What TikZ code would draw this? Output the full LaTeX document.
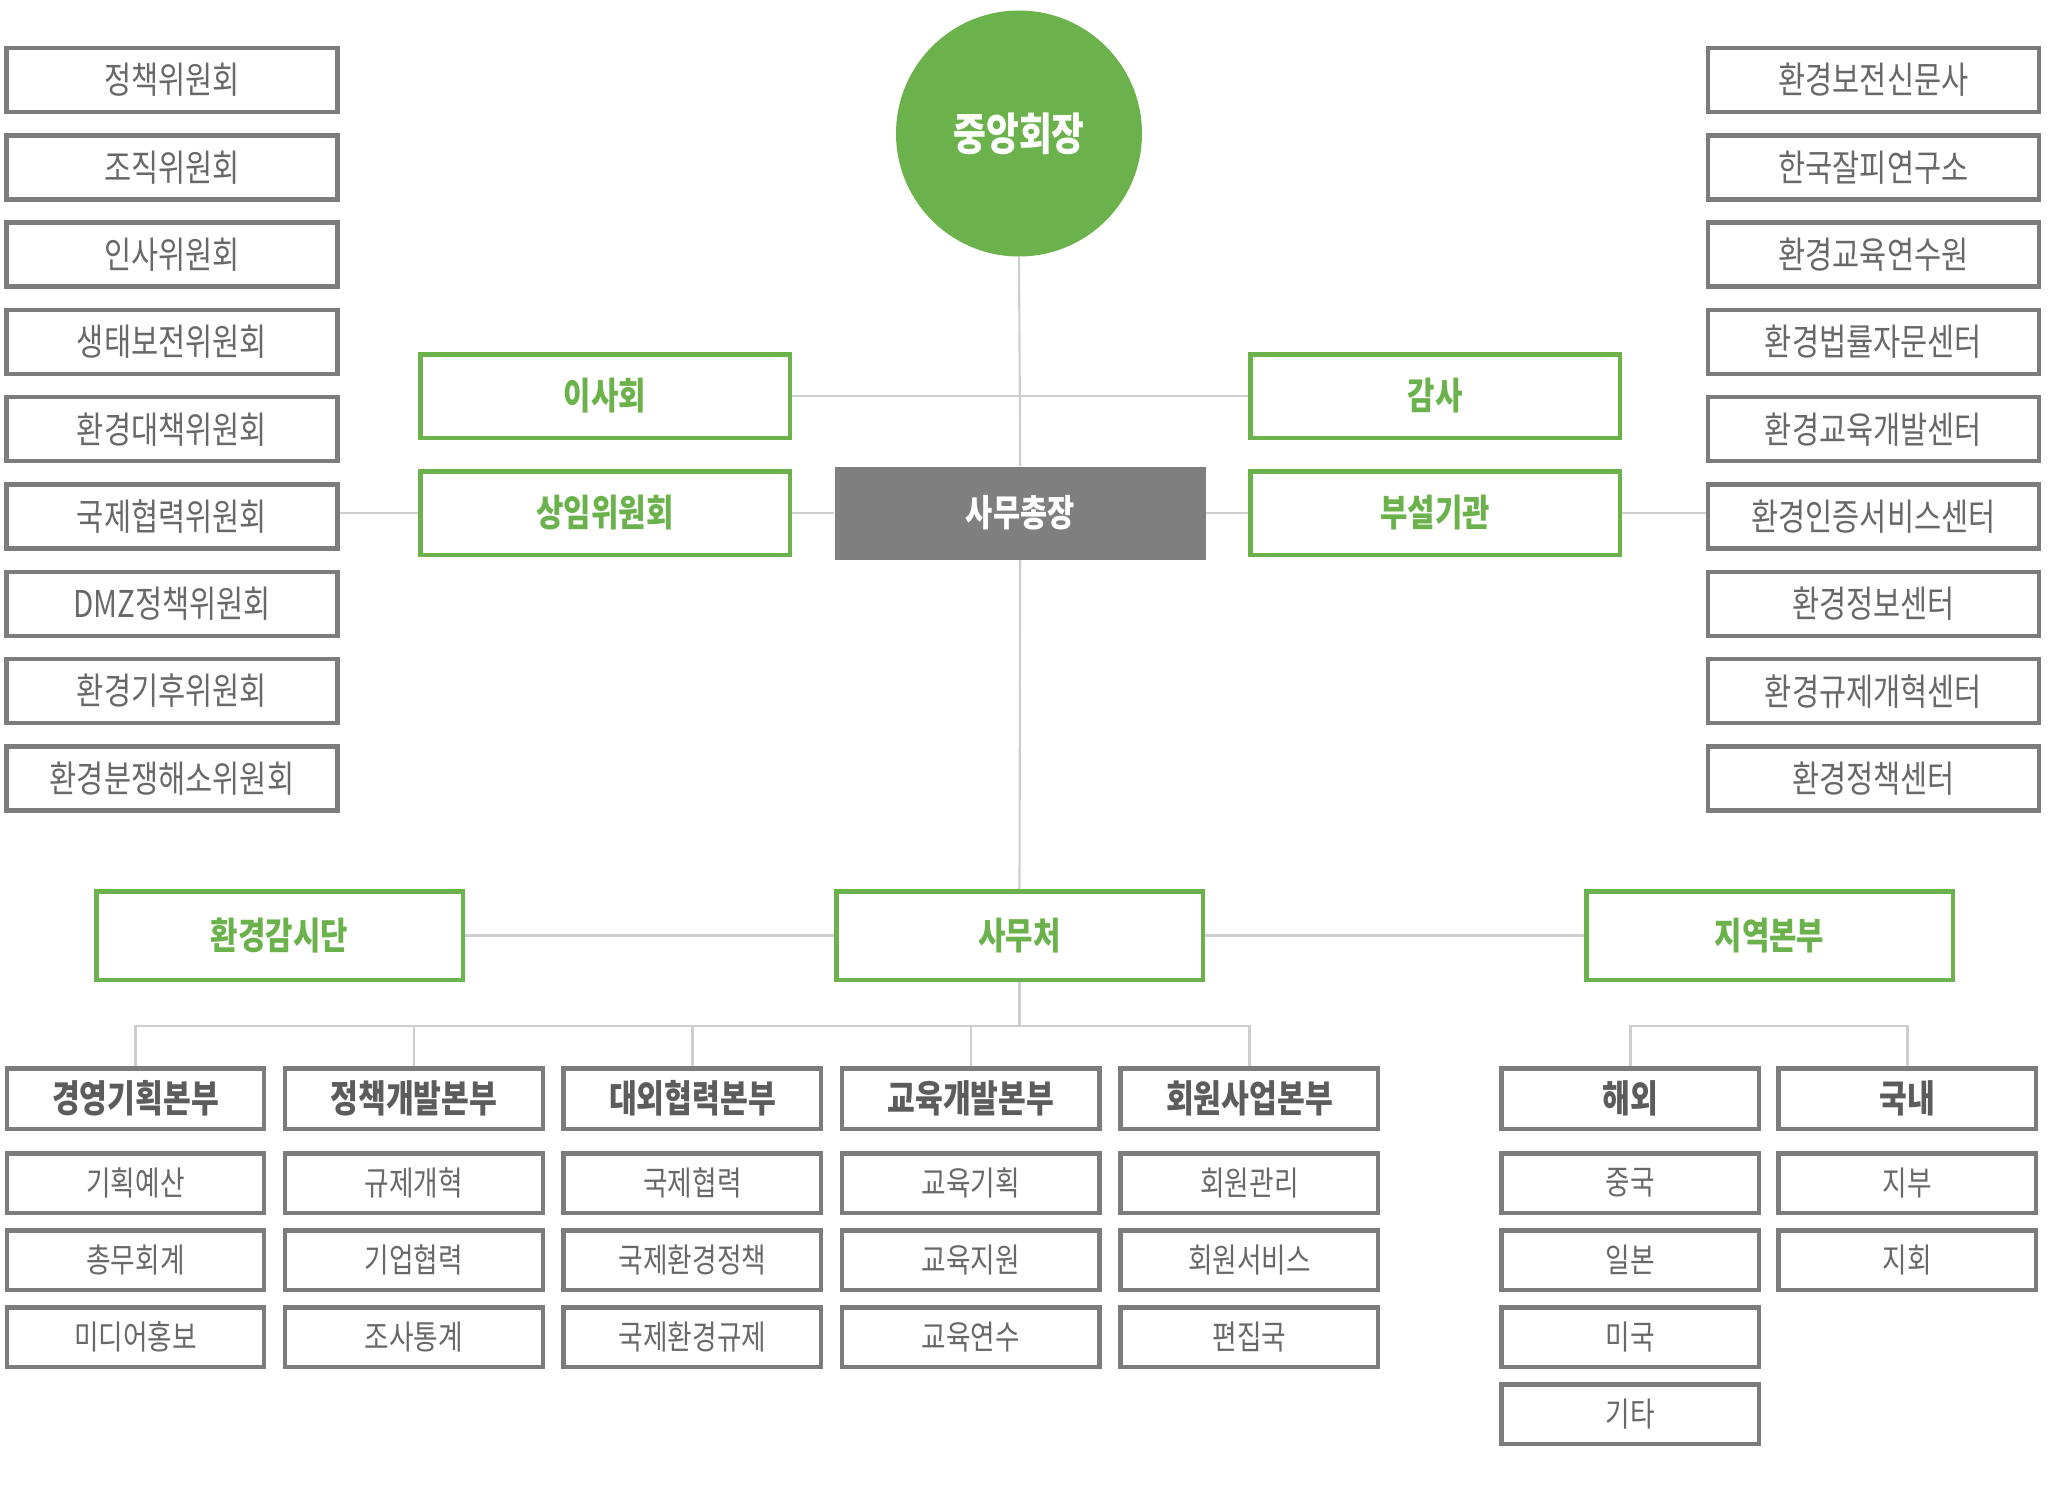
\documentclass[tikz,border=0pt]{standalone}
\usepackage{fontspec}
\setmainfont{Noto Sans CJK KR}[FakeStretch=0.8]
\usepackage{tikz}
\usetikzlibrary{positioning, calc}

\definecolor{ecogreen}{RGB}{108,178,76}
\definecolor{boxgray}{RGB}{124,124,124}
\definecolor{textgray}{RGB}{104,104,104}
\definecolor{headgray}{RGB}{92,92,92}
\definecolor{linegray}{RGB}{206,206,206}
\definecolor{chiefgray}{RGB}{127,127,127}

\begin{document}
\begin{tikzpicture}[
        unit/.style={draw=boxgray, line width=1.28pt, rectangle, minimum width=3.31cm, minimum height=0.64cm, inner sep=0pt, align=center, text=textgray, font=\fontsize{10.5pt}{11pt}\selectfont},
        organ/.style={draw=ecogreen, line width=1.28pt, rectangle, minimum width=3.695cm, minimum height=0.835cm, inner sep=0pt, align=center, text=ecogreen, font=\fontsize{10.6pt}{11pt}\selectfont\bfseries},
        office/.style={organ, minimum width=3.665cm, minimum height=0.885cm},
        division/.style={draw=boxgray, line width=1.28pt, rectangle, minimum width=2.575cm, minimum height=0.605cm, inner sep=0pt, align=center, text=headgray, font=\fontsize{10.75pt}{11pt}\selectfont\bfseries},
        team/.style={draw=boxgray, line width=1.28pt, rectangle, minimum width=2.575cm, minimum height=0.595cm, inner sep=0pt, align=center, text=textgray, font=\fontsize{9.5pt}{10pt}\selectfont},
        link/.style={draw=linegray, line width=0.6pt}
      ]
      \useasboundingbox (0,0) rectangle (20.48,-14.92);

      % top of the chart
      \node[circle, fill=ecogreen, minimum size=2.46cm, inner sep=0pt, text=white, font=\fontsize{12.7pt}{13pt}\selectfont\bfseries] (chair) at (10.19,-1.335) {중앙회장};
      \node[organ] (board) at (6.05,-3.96) {이사회};
      \node[organ, below=0.29cm of board] (standing) {상임위원회};
      \node[rectangle, fill=chiefgray, minimum width=3.71cm, minimum height=0.93cm, inner sep=0pt, text=white, font=\fontsize{10.5pt}{11pt}\selectfont\bfseries, right=0.42cm of standing] (secgen) {사무총장};
      \node[organ, right=0.42cm of secgen] (affil) {부설기관};
      \node[organ, above=0.29cm of affil] (audit) {감사};

      % committees
      \node[unit] (compolicy) at (1.72,-0.80) {정책위원회};
      \node[unit, below=0.188cm of compolicy] (comorg) {조직위원회};
      \node[unit, below=0.188cm of comorg] (comstaff) {인사위원회};
      \node[unit, below=0.188cm of comstaff] (comeco) {생태보전위원회};
      \node[unit, below=0.188cm of comeco] (comcounter) {환경대책위원회};
      \node[unit, below=0.188cm of comcounter] (comintl) {국제협력위원회};
      \node[unit, below=0.188cm of comintl] (comdmz) {DMZ정책위원회};
      \node[unit, below=0.188cm of comdmz] (comclimate) {환경기후위원회};
      \node[unit, below=0.188cm of comclimate] (comdispute) {환경분쟁해소위원회};

      % affiliated bodies
      \node[unit] (press) at (18.735,-0.80) {환경보전신문사};
      \node[unit, below=0.188cm of press] (lab) {한국잘피연구소};
      \node[unit, below=0.188cm of lab] (training) {환경교육연수원};
      \node[unit, below=0.188cm of training] (legal) {환경법률자문센터};
      \node[unit, below=0.188cm of legal] (edudev) {환경교육개발센터};
      \node[unit, below=0.188cm of edudev] (cert) {환경인증서비스센터};
      \node[unit, below=0.188cm of cert] (info) {환경정보센터};
      \node[unit, below=0.188cm of info] (reform) {환경규제개혁센터};
      \node[unit, below=0.188cm of reform] (policyctr) {환경정책센터};

      % secretariat row
      \node[office] (office) at (10.195,-9.355) {사무처};
      \node[office, left=3.69cm of office] (watch) {환경감시단};
      \node[office, right=3.79cm of office] (region) {지역본부};

      % divisions
      \node[division] (mgmt) at (1.355,-10.985) {경영기획본부};
      \node[division, right=0.165cm of mgmt] (policy) {정책개발본부};
      \node[division, right=0.165cm of policy] (external) {대외협력본부};
      \node[division, right=0.165cm of external] (edu) {교육개발본부};
      \node[division, right=0.165cm of edu] (member) {회원사업본부};
      \node[division, right=1.19cm of member] (overseas) {해외};
      \node[division, right=0.15cm of overseas] (domestic) {국내};

      % teams
      \node[team, below=0.2cm of mgmt] (budget) {기획예산};
      \node[team, below=0.13cm of budget] (general) {총무회계};
      \node[team, below=0.13cm of general] (media) {미디어홍보};
      \node[team, below=0.2cm of policy] (regreform) {규제개혁};
      \node[team, below=0.13cm of regreform] (corp) {기업협력};
      \node[team, below=0.13cm of corp] (survey) {조사통계};
      \node[team, below=0.2cm of external] (intl) {국제협력};
      \node[team, below=0.13cm of intl] (intlpolicy) {국제환경정책};
      \node[team, below=0.13cm of intlpolicy] (intlreg) {국제환경규제};
      \node[team, below=0.2cm of edu] (eduplan) {교육기획};
      \node[team, below=0.13cm of eduplan] (edusupport) {교육지원};
      \node[team, below=0.13cm of edusupport] (edutrain) {교육연수};
      \node[team, below=0.2cm of member] (memadmin) {회원관리};
      \node[team, below=0.13cm of memadmin] (memservice) {회원서비스};
      \node[team, below=0.13cm of memservice] (editorial) {편집국};
      \node[team, below=0.2cm of overseas] (china) {중국};
      \node[team, below=0.13cm of china] (japan) {일본};
      \node[team, below=0.13cm of japan] (usa) {미국};
      \node[team, below=0.13cm of usa] (others) {기타};
      \node[team, below=0.2cm of domestic] (branch) {지부};
      \node[team, below=0.13cm of branch] (chapter) {지회};

      \coordinate[below=0.44cm of office] (bus);
      \coordinate[above=0.4cm of overseas] (regbus);

      % edges
      \draw[link] (chair.south) -- (secgen.north);
      \draw[link] (secgen.south) -- (office.north);
      \draw[link] (board.east) -- (audit.west);
      \draw[link] (standing.east) -- (secgen.west);
      \draw[link] (secgen.east) -- (affil.west);
      \draw[link] (standing.west) -- (standing.west -| comintl.east);
      \draw[link] (affil.east) -- (affil.east -| cert.west);
      \draw[link] (watch.east) -- (office.west);
      \draw[link] (office.east) -- (region.west);
      \draw[link] (office.south) -- (bus);
      \draw[link] (mgmt.north) |- (bus) -| (member.north);
      \draw[link] (policy.north) -- (policy.north |- bus);
      \draw[link] (external.north) -- (external.north |- bus);
      \draw[link] (edu.north) -- (edu.north |- bus);
      \draw[link] (overseas.north) -- (regbus) -| (domestic.north);

\end{tikzpicture}
\end{document}
